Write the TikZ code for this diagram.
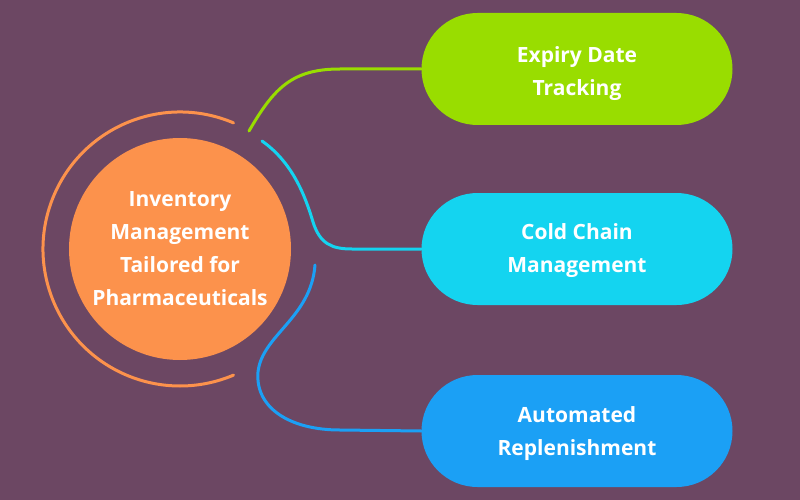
\documentclass[tikz,border=0pt]{standalone}
\usepackage{fontspec}
\setmainfont{Open Sans}
\usetikzlibrary{shapes.misc}
\definecolor{bgc}{RGB}{108,71,99}
\definecolor{orc}{RGB}{252,146,76}
\definecolor{grc}{RGB}{153,221,0}
\definecolor{cyc}{RGB}{20,212,240}
\definecolor{blc}{RGB}{27,160,245}
\begin{document}
\begin{tikzpicture}[x=1pt,y=-1pt,
  lbl/.style={text=white, font=\fontsize{21}{33}\selectfont\bfseries, align=center},
  pill/.style={rounded rectangle, minimum width=311pt, minimum height=112pt, inner sep=0pt, lbl},
  conn/.style={line width=3pt, line cap=round}]
\fill[bgc] (0,0) rectangle (800,500);
\useasboundingbox (0,0) rectangle (800,500);
\node[circle, fill=orc, minimum size=222pt, inner sep=0pt, lbl] (hub) at (180,249) {Inventory\\Management\\Tailored for\\Pharmaceuticals};
\draw[orc, conn] (hub.center) ++(-67:137) arc[start angle=-67, end angle=-293, radius=137];
\node[pill, fill=grc] (p1) at (577,69) {};
\node[pill, fill=cyc] (p2) at (577,249) {};
\node[pill, fill=blc] (p3) at (577,431) {};
\node[lbl] (t1) at (577,74) {Expiry Date\\Tracking};
\node[lbl] (t2) at (577,251) {Cold Chain\\Management};
\node[lbl] (t3) at (577,434) {Automated\\Replenishment};
\coordinate (s1) at (249,131);
\coordinate (s2) at (262,141);
\coordinate (s3) at (315,265);
\draw[grc, conn] (s1) .. controls (274,88) and (292,69) .. (340,69) -- (p1.west);
\draw[cyc, conn] (s2) .. controls (292,162) and (305,195) .. (313,222) .. controls (320,244) and (332,249) .. (352,249) -- (p2.west);
\draw[blc, conn] (s3) .. controls (311,318) and (262,335) .. (258,372) .. controls (255,408) and (290,430) .. (340,430) -- (p3.west);
\end{tikzpicture}
\end{document}
